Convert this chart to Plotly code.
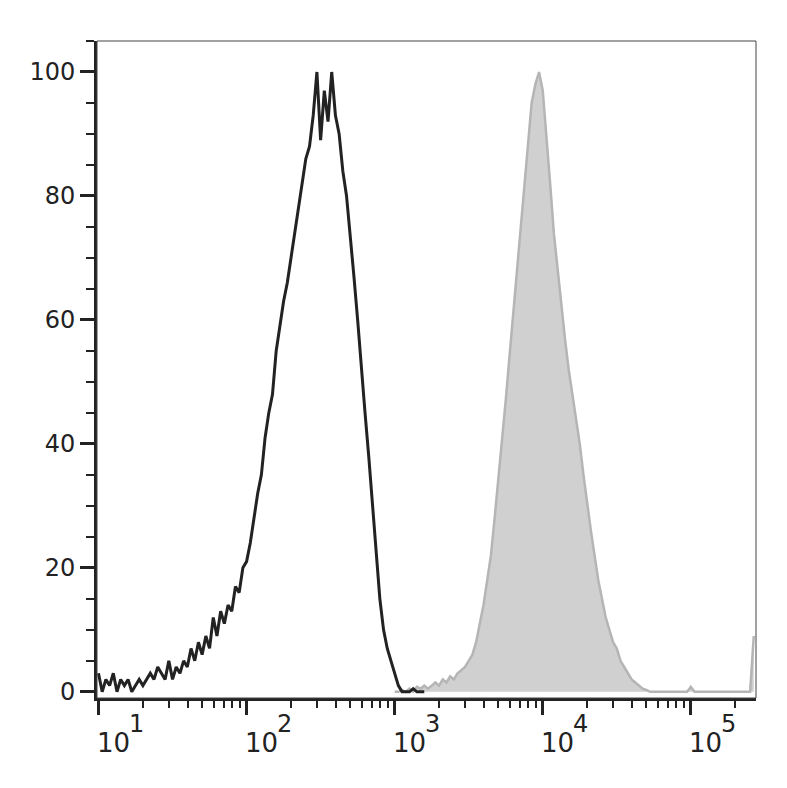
import numpy as np
import plotly.graph_objects as go

# log10 bin positions
black_log = [round(1.0 + 0.025 * i, 3) for i in range(89)]
black_vals = [3,0,2,1,3,0,2,1,2,0,1,2,1,2,3,2,4,3,2,5,2,4,3,5,4,7,5,8,6,9,7,12,9,13,11,14,13,17,16,20,
              21,24,28,32,35,41,45,48,55,59,63,66,70,74,78,82,86,88,93,100,89,97,92,100,93,90,84,80,74,67,
              60,52,45,38,30,22,15,10,7,5,3,1,0,0,0,0.5,0,0,0]
gray_log = [round(3.0 + 0.025 * i, 3) for i in range(98)]
gray_vals = [0,0,0.3,0,0.5,0,0.8,0.5,1,0.5,1,1.5,1,2,1.5,2.5,2,3,3.5,4,5,6,8,11,14,18,22,28,34,40,
             47,54,61,68,75,82,89,95,98,100,97,90,82,74,68,63,57,52,48,44,40,35,30,26,22,18,15,12,10,8,
             7,5,4,3,2,1.5,1,0.5,0.3,0,0,0,0,0,0,0,0,0,0,0,0.8,0,0,0,0,0,0,0,0,0,0,0,0,0,0,0,0,9]
decades = [1, 2, 3, 4, 5]
ytick_vals = [0, 20, 40, 60, 80, 100]

fig = go.Figure()
fig.add_trace(go.Scatter(x=[10**v for v in gray_log], y=gray_vals, mode="lines", fill="tozeroy",
                         fillcolor="#d0d0d0", line=dict(color="#b5b5b5", width=2.5)))
fig.add_trace(go.Scatter(x=[10**v for v in black_log], y=black_vals, mode="lines",
                         line=dict(color="#222222", width=3)))

minor_vals = [m * 10**d for d in range(1, 6) for m in range(2, 10) if m * 10**d < 10**5.43]
fig.update_xaxes(type="log", range=[0.99, 5.44], tickvals=[10**d for d in decades], showticklabels=False,
                 ticks="outside", ticklen=14, tickwidth=3, tickcolor="#222", showline=True, linewidth=3,
                 linecolor="#222", showgrid=False, zeroline=False, mirror=False,
                 minor=dict(tickvals=minor_vals, ticks="outside", ticklen=7, tickwidth=2, tickcolor="#222", showgrid=False))
fig.update_yaxes(range=[-1, 105], tickvals=ytick_vals, ticks="outside", ticklen=14, tickwidth=3, tickcolor="#222",
                 showline=True, linewidth=3, linecolor="#222", showgrid=False, zeroline=False,
                 tickfont=dict(size=24, color="#222", family="DejaVu Sans"),
                 minor=dict(dtick=5, ticks="outside", ticklen=8, tickwidth=2, tickcolor="#222", showgrid=False))
for d in decades:
    fig.add_annotation(x=d, y=0, xref="x", yref="paper", yshift=-62, xshift=15, showarrow=False,
                       text="10", font=dict(size=26, color="#222", family="DejaVu Sans"))
    fig.add_annotation(x=d, y=0, xref="x", yref="paper", yshift=-42, xshift=38, showarrow=False,
                       text=str(d), font=dict(size=24, color="#222", family="DejaVu Sans"))
fig.add_shape(type="rect", xref="paper", yref="paper", x0=0, x1=1, y0=0, y1=1,
              line=dict(color="#444", width=1))
fig.update_layout(width=787, height=788, margin=dict(l=89, r=39, t=33, b=98),
                  plot_bgcolor="white", paper_bgcolor="white", showlegend=False)
fig.write_html("out.html")
